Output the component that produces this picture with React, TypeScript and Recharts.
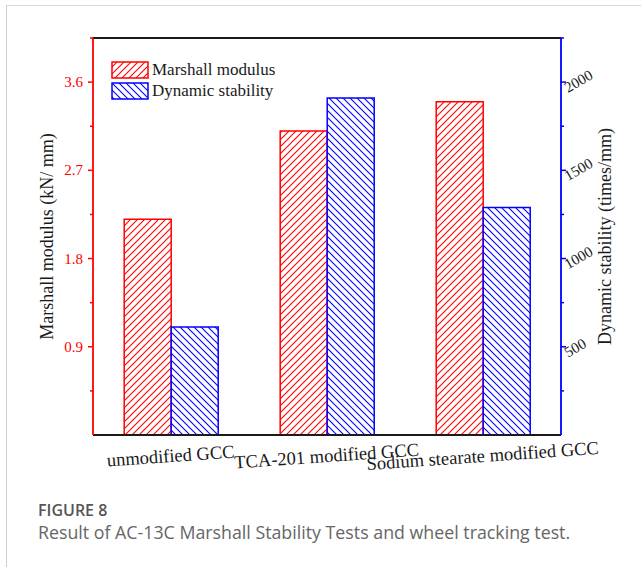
import { Bar, BarChart, Legend, ReferenceLine, XAxis, YAxis } from "recharts";

const categories = ["unmodified GCC", "TCA-201 modified GCC", "Sodium stearate modified GCC"];
const marshallModulus = [2.2, 3.1, 3.4]; // kN/mm
const dynamicStability = [612, 1910, 1290]; // times/mm

const modulusTicks = [0.45, 0.9, 1.35, 1.8, 2.25, 2.7, 3.15, 3.6, 4.05];
const modulusLabels = ["0.9", "1.8", "2.7", "3.6"];
const stabilityTicks = [250, 500, 750, 1000, 1250, 1500, 1750, 2000, 2250];
const stabilityLabels = ["500", "1000", "1500", "2000"];

const data = categories.map((name, i) => ({
  name,
  modulus: marshallModulus[i],
  stability: dynamicStability[i],
}));

const RED = "#ff0000";
const BLUE = "#0000ff";
const INK = "#1a1a1a";
const SERIF = '"Liberation Serif", "Times New Roman", serif';
const SANS = '"Open Sans", "Noto Sans", sans-serif';

const strokes: Record<string, string> = { modulus: RED, stability: BLUE };
const legendOrder = ["modulus", "stability"];

const LeftTick = ({ x, y, payload }: any) => {
  const label = modulusLabels.find((l) => Number(l) === payload.value);
  return (
    <g>
      <line x1={x - (label ? 5 : 3)} x2={x} y1={y} y2={y} stroke={RED} strokeWidth={1.5} />
      {label && (
        <text x={x - 10} y={y} dy={5} textAnchor="end" fill={RED} fontSize={15} fontFamily={SERIF}>
          {label}
        </text>
      )}
    </g>
  );
};

const RightTick = ({ x, y, payload }: any) => {
  const label = stabilityLabels.find((l) => Number(l) === payload.value);
  const tx = x + 7;
  const ty = y + 11;
  return (
    <g>
      <line x1={x} x2={x + (label ? 5 : 3)} y1={y} y2={y} stroke={BLUE} strokeWidth={1.5} />
      {label && (
        <text x={tx} y={ty} transform={`rotate(-30 ${tx} ${ty})`} fill={INK} fontSize={15} fontFamily={SERIF}>
          {label}
        </text>
      )}
    </g>
  );
};

const CategoryTick = ({ x, y, payload }: any) => {
  const ty = y + 27;
  return (
    <text
      x={x}
      y={ty}
      textAnchor="middle"
      transform={`rotate(-4 ${x} ${ty})`}
      fill={INK}
      fontSize={18.5}
      fontFamily={SERIF}
    >
      {payload.value}
    </text>
  );
};

const AxisTitle = ({ viewBox, text, dx }: any) => {
  const cx = viewBox.x + dx;
  const cy = viewBox.y + viewBox.height / 2;
  return (
    <text
      x={cx}
      y={cy}
      transform={`rotate(-90 ${cx} ${cy})`}
      textAnchor="middle"
      dominantBaseline="central"
      fill={INK}
      fontSize={18}
      fontFamily={SERIF}
    >
      {text}
    </text>
  );
};

const HatchLegend = ({ payload }: any) => {
  const items = [...(payload ?? [])].sort(
    (a: any, b: any) => legendOrder.indexOf(a.dataKey) - legendOrder.indexOf(b.dataKey)
  );
  return (
    <div style={{ display: "flex", flexDirection: "column", gap: 3 }}>
      {items.map((entry: any) => (
        <div key={entry.value} style={{ display: "flex", alignItems: "center", height: 18 }}>
          <svg width={38} height={18}>
            <rect
              x={1}
              y={1}
              width={36}
              height={16}
              fill={`url(#hatch-${entry.dataKey})`}
              stroke={strokes[entry.dataKey]}
              strokeWidth={1.5}
            />
          </svg>
          <span style={{ marginLeft: 3, fontSize: 17, fontFamily: SERIF, color: INK, lineHeight: "18px" }}>
            {entry.value}
          </span>
        </div>
      ))}
    </div>
  );
};

export default function App() {
  return (
    <div
      style={{
        position: "absolute",
        left: 0,
        top: 0,
        width: 641,
        height: 567,
        background: "#fff",
        overflow: "hidden",
      }}
    >
      {/* panel frame */}
      <div style={{ position: "absolute", left: 6, top: 5, right: 0, height: 1, background: "#d9d9d9" }} />
      <div style={{ position: "absolute", left: 6, top: 5, bottom: 0, width: 1, background: "#cfcfcf" }} />

      <BarChart
        width={641}
        height={567}
        data={data}
        margin={{ top: 38, right: 20, bottom: 92, left: 33 }}
        barCategoryGap="20%"
        barGap={0}
        style={{ position: "absolute", left: 0, top: 0 }}
      >
        <defs>
          <pattern id="hatch-modulus" width={7} height={7} patternUnits="userSpaceOnUse">
            <rect width={7} height={7} fill="#fff" />
            <path d="M0,7 L7,0 M-1.75,1.75 L1.75,-1.75 M5.25,8.75 L8.75,5.25" stroke={RED} strokeWidth={1.1} />
          </pattern>
          <pattern id="hatch-stability" width={7} height={7} patternUnits="userSpaceOnUse">
            <rect width={7} height={7} fill="#fff" />
            <path d="M0,0 L7,7 M-1.75,5.25 L1.75,8.75 M5.25,-1.75 L8.75,1.75" stroke={BLUE} strokeWidth={1.1} />
          </pattern>
        </defs>
        <XAxis
          dataKey="name"
          height={40}
          tickSize={0}
          tickMargin={0}
          tickLine={false}
          axisLine={{ stroke: INK, strokeWidth: 1.8 }}
          tick={<CategoryTick />}
          interval={0}
        />
        <YAxis
          yAxisId="left"
          orientation="left"
          width={60}
          domain={[0, 4.05]}
          ticks={modulusTicks}
          tickSize={0}
          tickMargin={0}
          tickLine={false}
          axisLine={{ stroke: RED, strokeWidth: 1.8 }}
          tick={<LeftTick />}
          label={<AxisTitle text="Marshall modulus (kN/ mm)" dx={14} />}
        />
        <YAxis
          yAxisId="right"
          orientation="right"
          width={60}
          domain={[0, 2250]}
          ticks={stabilityTicks}
          tickSize={0}
          tickMargin={0}
          tickLine={false}
          axisLine={{ stroke: BLUE, strokeWidth: 1.8 }}
          tick={<RightTick />}
          label={<AxisTitle text="Dynamic stability (times/mm)" dx={44} />}
        />
        <ReferenceLine yAxisId="left" y={4.05} stroke={INK} strokeWidth={1.8} />
        <Legend
          layout="vertical"
          align="center"
          verticalAlign="middle"
          content={<HatchLegend />}
          wrapperStyle={{ position: "absolute", left: 111, top: 61, width: 200, height: "auto" }}
        />
        <Bar
          yAxisId="left"
          dataKey="modulus"
          name="Marshall modulus"
          fill="url(#hatch-modulus)"
          stroke={RED}
          strokeWidth={1.5}
          isAnimationActive={false}
        />
        <Bar
          yAxisId="right"
          dataKey="stability"
          name="Dynamic stability"
          fill="url(#hatch-stability)"
          stroke={BLUE}
          strokeWidth={1.5}
          isAnimationActive={false}
        />
      </BarChart>

      <div style={{ position: "absolute", left: 38, top: 499, fontFamily: SANS, color: "#555" }}>
        <div style={{ fontSize: 16, fontWeight: 600, lineHeight: "22px" }}>FIGURE 8</div>
        <div style={{ fontSize: 17.8, lineHeight: "22px", color: "#666", whiteSpace: "nowrap" }}>
          Result of AC-13C Marshall Stability Tests and wheel tracking test.
        </div>
      </div>
    </div>
  );
}
